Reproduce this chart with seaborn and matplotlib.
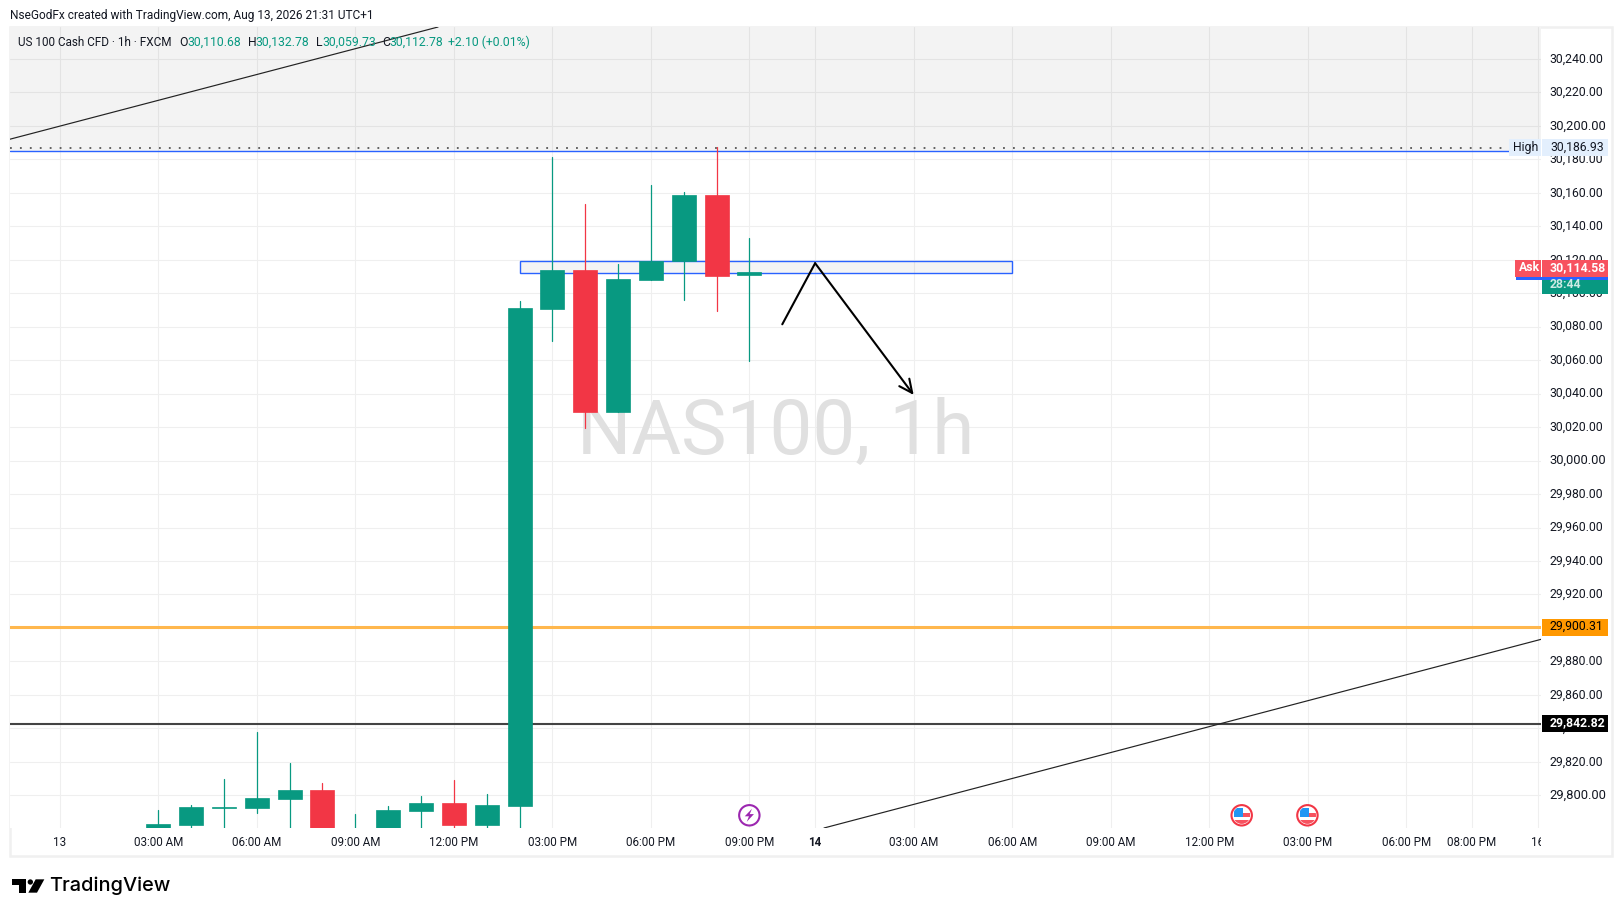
import matplotlib
matplotlib.use("Agg")
import matplotlib.pyplot as plt
import seaborn as sns
import pandas as pd
from matplotlib.patches import Rectangle, Circle, Polygon
from matplotlib.transforms import Affine2D, Bbox, ScaledTranslation, blended_transform_factory

# ---------- data ----------
bars   = [3, 4, 5, 6, 7, 8, 9, 10, 11, 12, 13, 14, 15, 16, 17, 18, 19, 20, 21]
opens  = [29779.0, 29782.3, 29792.5, 29792.4, 29797.8, 29803.2, 29770.0, 29776.0, 29790.6, 29795.4,
          29782.3, 29793.6, 30090.6, 30113.9, 30029.0, 30107.9, 30119.0, 30158.7, 30110.68]
highs  = [29791.2, 29794.2, 29809.7, 29837.8, 29819.3, 29807.4, 29788.8, 29793.6, 29799.6, 29809.1,
          29800.8, 30095.3, 30181.4, 30153.3, 30117.4, 30164.6, 30160.5, 30187.3, 30132.78]
lows   = [29775.0, 29772.0, 29775.0, 29789.6, 29772.0, 29770.0, 29765.0, 29770.0, 29774.0, 29776.0,
          29778.0, 29772.0, 30071.4, 30019.5, 30029.0, 30107.9, 30096.0, 30089.4, 30059.73]
closes = [29782.9, 29793.0, 29793.0, 29798.4, 29803.2, 29775.0, 29778.0, 29791.2, 29795.4, 29782.3,
          29794.2, 30091.1, 30113.9, 30029.0, 30108.5, 30119.2, 30158.7, 30110.3, 30112.78]

tick_bars   = [0, 3, 6, 9, 12, 15, 18, 21, 23, 26, 29, 32, 35, 38, 41, 43, 45]
tick_labels = ["13", "03:00 AM", "06:00 AM", "09:00 AM", "12:00 PM", "03:00 PM", "06:00 PM", "09:00 PM",
               "14", "03:00 AM", "06:00 AM", "09:00 AM", "12:00 PM", "03:00 PM", "06:00 PM", "08:00 PM", "16"]
price_ticks = list(range(29800, 30241, 20))
bold_prices = [29800, 30000, 30200]

high_level, user_level, orange_level, black_level = 30186.93, 30184.8, 29900.31, 29842.82
ask_price = 30114.58
zone_bars, zone_prices = [14, 29], [30112.2, 30119.0]
trend1_bars, trend1_prices = [-1.528, 11.52], [30191.9, 30259.0]
trend2_bars, trend2_prices = [23.27, 45.1], [29780.5, 29893.2]
path_bars, path_prices = [22, 23, 26], [30081.4, 30117.9, 30039.2]
flag_bars = [36, 38]
bolt_bar = 21

GREEN, RED, BLUE = "#089981", "#F23645", "#2962FF"
GRID, INK = "#efefef", "#131722"
FS = 8.8

# ---------- figure ----------
sns.set_theme(style="white")
plt.rcParams["font.family"] = ["Roboto", "DejaVu Sans"]
W, H = 1623, 916
fig = plt.figure(figsize=(W / 100, H / 100), dpi=100, facecolor="white")
L, R, T, B = 9.5, 1541, 27, 828
ax = fig.add_axes([L / W, (H - B) / H, (R - L) / W, (B - T) / H])
ax.set_xlim(-1.528, 45.1)
ax.set_ylim(29780.5, 30259.0)
for s in ax.spines.values():
    s.set_visible(False)

px = Affine2D().scale(1, -1).translate(0, H)          # pixel coords, top-left origin
px_y = blended_transform_factory(px, ax.transData)    # x pixels, y price

def ptext(x, y, s, size=FS, color=INK, ha="left", va="center", **kw):
    return fig.text(x, y, s, transform=px, fontsize=size, color=color, ha=ha, va=va, **kw)

# frame
fig.add_artist(Rectangle((9.5, 26.5), 1602.5, 829.5, transform=px, fill=False, ec="#f0f0f0", lw=1.8, zorder=-1))

# grid
ax.set_xticks(tick_bars)
ax.set_xticklabels(tick_labels)
ax.set_yticks(price_ticks)
ax.set_yticklabels([f"{p:,.2f}" for p in price_ticks])
ax.yaxis.tick_right()
ax.tick_params(axis="both", length=0, labelsize=FS, labelcolor=INK)
ax.tick_params(axis="x", pad=5.5, labelsize=8.4)
ax.tick_params(axis="y", pad=6)
ax.grid(True, color=GRID, lw=0.75)
ax.set_axisbelow(True)
for lab, p in zip(ax.get_yticklabels(), price_ticks):
    lab.set_transform(lab.get_transform() + ScaledTranslation(0, 1 / 72, fig.dpi_scale_trans))
    if p in bold_prices:
        lab.set_fontsize(9.4)
for lab, t in zip(ax.get_xticklabels(), tick_labels):
    if t == "14":
        lab.set_fontweight("bold")
    if t == "16":
        lab.set_clip_on(True)
        lab.set_clip_box(Bbox([[0, 0], [R, H]]))

# shaded band and watermark
ax.axhspan(user_level, 30259.0, color="black", alpha=0.047, lw=0, zorder=1)
ax.text(775.5, 454, "NAS100, 1h", transform=px, fontsize=55, color="#e0e0e0",
        ha="center", va="baseline", zorder=1.2, clip_on=False)

# levels
ax.axhline(orange_level, color="#FFB74D", lw=2.2, zorder=2)
ax.axhline(black_level, color="#434343", lw=1.5, zorder=2)
ax.axhline(user_level, color=BLUE, lw=1.0, zorder=2)
ax.plot([-1.528, 44.15], [high_level, high_level], color="#555555", lw=1.3, ls=(0, (1, 4.5)), zorder=2)

# trend lines
for xs, ys in ((trend1_bars, trend1_prices), (trend2_bars, trend2_prices)):
    sns.lineplot(x=xs, y=ys, ax=ax, color="#222222", lw=0.85, zorder=2.5, legend=False)

# zone
ax.add_patch(Rectangle((zone_bars[0], zone_prices[0]), zone_bars[1] - zone_bars[0],
                       zone_prices[1] - zone_prices[0], fc=(0, 0, 0, 0.045), ec=BLUE, lw=1.0, zorder=3))

# drawn path with arrow
sns.lineplot(x=path_bars[:2], y=path_prices[:2], ax=ax, color="black", lw=1.5, zorder=3.5, legend=False)
ax.annotate("", xy=(path_bars[2], path_prices[2]), xytext=(path_bars[1], path_prices[1]),
            arrowprops=dict(arrowstyle="->,head_length=0.95,head_width=0.45", color="black", lw=1.5,
                            shrinkA=0, shrinkB=0, mutation_scale=10), zorder=3.5)

# candles
df = pd.DataFrame(dict(bar=bars, o=opens, h=highs, l=lows, c=closes))
df["dir"] = ["up" if c >= o else "down" for o, c in zip(df.o, df.c)]
palette = {"up": GREEN, "down": RED}
wicks = df.melt(id_vars=["bar", "dir"], value_vars=["h", "l"], value_name="price")
sns.lineplot(data=wicks, x="bar", y="price", units="bar", estimator=None, hue="dir", palette=palette,
             lw=0.9, zorder=5, legend=False, ax=ax)
colors = df.dir.map(palette)
ax.bar(df.bar, (df.c - df.o).abs(), bottom=df[["o", "c"]].min(axis=1), width=0.73,
       color=colors, edgecolor=colors, lw=0.5, zorder=6)
ax.set_xlabel("")
ax.set_ylabel("")
ax.set_xlim(-1.528, 45.1)
ax.set_ylim(29780.5, 30259.0)

# event icons
iy = 815.3
def ring(cx, color):
    fig.add_artist(Circle((cx, iy), 10.2, transform=px, fc="white", ec=color, lw=1.5, zorder=8))
def icon_x(b):
    return 59.7 + 32.84 * b

cx = icon_x(bolt_bar)
ring(cx, "#9C27B0")
bolt = [(2.6, -6.5), (-4.6, 1.0), (-0.4, 1.0), (-2.6, 6.5), (4.6, -1.2), (0.4, -1.2)]
fig.add_artist(Polygon([(cx + a, iy + b) for a, b in bolt], transform=px, fc="#9C27B0", ec="none", zorder=9))

for b in flag_bars:
    cx = icon_x(b) - 0.2
    if b == 36:
        cx = 1241.7
    ring(cx, RED)
    clip = Circle((cx, iy), 8.6, transform=px)
    for x0, y0, w, h, col in ((-7.6, -7.6, 9.3, 9.3, "#2196F3"), (1.7, -2.3, 6.8, 4, "#F7525F"),
                              (-9, 4.3, 18, 5, "#F7525F")):
        r = Rectangle((cx + x0, iy + y0), w, h, transform=px, fc=col, ec="none", zorder=9)
        fig.add_artist(r)
        r.set_clip_path(clip)

# price tags
def tag(x0, x1, value, face, zorder=10, h=10):
    ax.add_patch(Rectangle((x0, value - h / 2), x1 - x0, h, transform=px_y, fc=face, ec="none",
                           zorder=zorder, clip_on=False))

def tag_text(x, value, s, color, **kw):
    ax.text(x, value, s, transform=px_y, color=color, fontsize=kw.pop("size", FS), va="center",
            zorder=12, clip_on=False, **kw)

LX, RX = 1542, 1608
tag(1509, 1540.5, high_level, "#E3EFFD")
tag(LX, RX, high_level, "#E3EFFD")
tag_text(1513.5, high_level, "High", INK)
tag_text(1550, high_level, f"{high_level:,.2f}", INK)

tag(LX, RX, 30104.0, GREEN, h=9.0)            # countdown
tag(1516, RX, 30108.8, BLUE, h=1.8, zorder=10.5)
tag(1515, 1540.5, ask_price + 0.3, "#F7525F", zorder=11)
tag(LX, RX, ask_price + 0.3, "#F7525F", zorder=11)
tag_text(1519, ask_price + 0.6, "Ask", "white", fontweight="bold")
tag_text(1550, ask_price + 0.6, f"{ask_price:,.2f}", "white", fontweight="bold")
tag_text(1550, 30105.3, "28:44", "#CDEBE4", fontweight="bold")

tag(LX, RX, orange_level, "#FF9800")
tag_text(1550, orange_level + 0.5, f"{orange_level:,.2f}", "black")
tag(LX, RX, black_level, "black")
tag_text(1550, black_level + 0.5, f"{black_level:,.2f}", "white", fontweight="bold")

# header + legend
ptext(10, 15.5, "NseGodFx created with TradingView.com, Aug 13, 2026 21:31 UTC+1", size=8.6)
ly = 42.3
def legend_text(x, s, color, size=FS):
    ax.text(x, ly, s, transform=px, fontsize=size, color=color, va="center", zorder=12, clip_on=False)
legend_text(18.4, "US 100 Cash CFD · 1h · FXCM", INK, size=8.5)
for lx, vx, k, v in ((179, 187.5, "O", "30,110.68"), (248, 255.5, "H", "30,132.78"),
                     (315.7, 322.5, "L", "30,059.73"), (382, 389.5, "C", "30,112.78")):
    legend_text(lx, k, INK)
    legend_text(vx, v, GREEN)
legend_text(448.5, "+2.10 (+0.01%)", GREEN)

# TradingView logo
def logo_poly(pts):
    fig.add_artist(Polygon([(5 + x / 3, 870 + y / 3) for x, y in pts], transform=px, fc="black", ec="none"))
logo_poly([(22, 28), (62, 28), (62, 68), (42, 68), (42, 44), (22, 44)])
fig.add_artist(Circle((5 + 76 / 3, 870 + 36 / 3), 8 / 3, transform=px, fc="black", ec="none"))
logo_poly([(92, 28), (118, 28), (96, 68), (70, 68)])
ptext(49, 886, "TradingView", size=14.4, color="#000000", fontweight="medium", family="Inter")

fig.savefig("out.png", dpi=100, facecolor="white")
